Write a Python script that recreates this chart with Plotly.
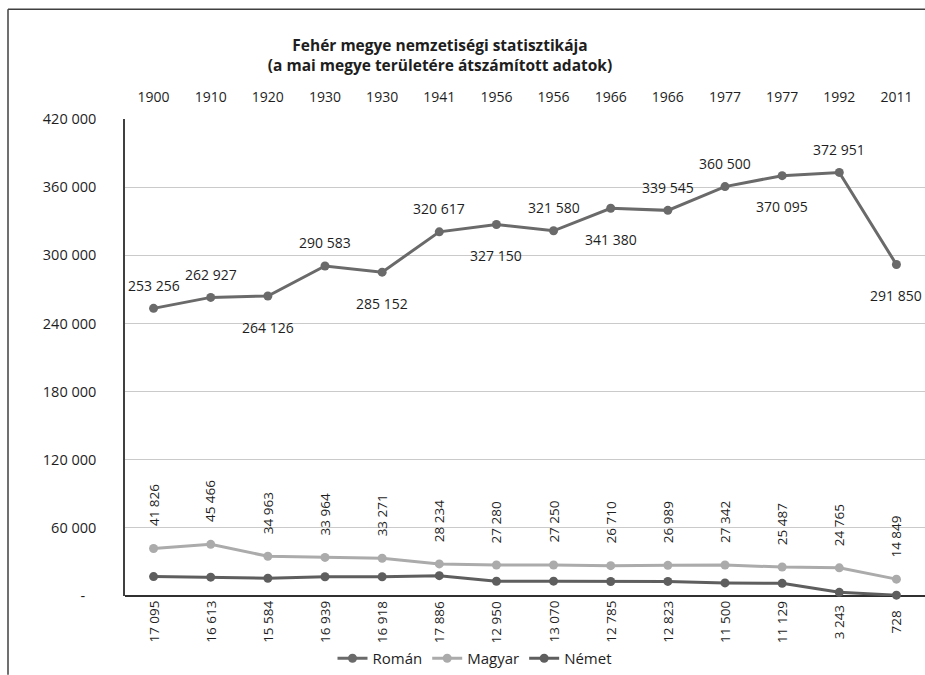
import plotly.graph_objects as go

years = ["1900", "1910", "1920", "1930", "1930", "1941", "1956", "1956",
         "1966", "1966", "1977", "1977", "1992", "2011"]
roman = [253256, 262927, 264126, 290583, 285152, 320617, 327150, 321580,
         341380, 339545, 360500, 370095, 372951, 291850]
magyar = [41826, 45466, 34963, 33964, 33271, 28234, 27280, 27250,
          26710, 26989, 27342, 25487, 24765, 14849]
nemet = [17095, 16613, 15584, 16939, 16918, 17886, 12950, 13070,
         12785, 12823, 11500, 11129, 3243, 728]
roman_label_side = ["above", "above", "below", "above", "below", "above", "below",
                    "above", "below", "above", "above", "below", "above", "below"]
y_ticks = [0, 60000, 120000, 180000, 240000, 300000, 360000, 420000]

FONT = "Open Sans"
C_ROMAN = "#6a6a6a"
C_MAGYAR = "#ababab"
C_NEMET = "#5e5e5e"
TXT = "#1e1e1e"

xs = list(range(len(years)))


def fmt(v):
    return f"{v:,}".replace(",", " ")


fig = go.Figure()
for name, vals, col in [("Román", roman, C_ROMAN), ("Magyar", magyar, C_MAGYAR),
                        ("Német", nemet, C_NEMET)]:
    fig.add_trace(go.Scatter(
        x=xs, y=vals, name=name, mode="lines+markers",
        line=dict(color=col, width=3), marker=dict(color=col, size=9),
        cliponaxis=False,
    ))

ann = []
for i, (v, side) in enumerate(zip(roman, roman_label_side)):
    ann.append(dict(x=i, y=v, xref="x", yref="y", text=fmt(v), showarrow=False,
                    yanchor="middle", yshift=23 if side == "above" else -31,
                    font=dict(family=FONT, size=14, color=TXT)))
for i, v in enumerate(magyar):
    ann.append(dict(x=i, y=v, xref="x", yref="y", text=fmt(v), showarrow=False,
                    textangle=-90, yanchor="middle", yshift=43,
                    font=dict(family=FONT, size=13.5, color=TXT)))
for i, v in enumerate(nemet):
    ann.append(dict(x=i, y=0, xref="x", yref="y", text=fmt(v), showarrow=False,
                    textangle=-90, yanchor="middle", yshift=-26,
                    font=dict(family=FONT, size=13.5, color=TXT)))

ytext = ["-\u00a0\u00a0\u00a0"] + [fmt(v) for v in y_ticks[1:]]

fig.update_layout(
    width=925, height=675,
    margin=dict(l=125, r=0, t=119, b=78),
    paper_bgcolor="white", plot_bgcolor="white",
    font=dict(family=FONT, size=14, color=TXT),
    title=dict(
        text="<b>Fehér megye nemzetiségi statisztikája<br>(a mai megye területére átszámított adatok)</b>",
        x=440 / 925, xref="container", xanchor="center",
        y=1 - 51 / 675, yref="container", yanchor="middle",
        font=dict(family=FONT, size=15.5, color=TXT),
    ),
    xaxis=dict(
        range=[-0.5, len(years) - 0.5], tickvals=xs, ticktext=years,
        side="top", showgrid=False, showline=False, zeroline=False,
        ticks="", ticklabelstandoff=13,
        tickfont=dict(family=FONT, size=14, color=TXT),
    ),
    yaxis=dict(
        range=[0, 420000], tickvals=y_ticks, ticktext=ytext,
        showgrid=True, gridcolor="#cacaca", gridwidth=1,
        showline=True, linecolor="#404040", linewidth=1.5,
        zeroline=True, zerolinecolor="#303030", zerolinewidth=1.5,
        ticks="", ticklabelstandoff=24,
        tickfont=dict(family=FONT, size=14.5, color=TXT),
    ),
    legend=dict(orientation="h", x=0.4375, xanchor="center", y=-0.132,
                yanchor="middle", font=dict(family=FONT, size=15, color=TXT),
                tracegroupgap=0),
    annotations=ann,
    shapes=[
        dict(type="line", xref="paper", yref="paper", x0=(8 - 125) / 800, x1=1.0,
             y0=(597 - 9) / 478, y1=(597 - 9) / 478, line=dict(color="#404040", width=1.5)),
        dict(type="line", xref="paper", yref="paper", x0=(8 - 125) / 800, x1=(8 - 125) / 800,
             y0=(597 - 9) / 478, y1=(597 - 676) / 478, line=dict(color="#404040", width=1.5)),
    ],
    showlegend=True,
)

fig.write_html("out.html", config={"displayModeBar": False},
               post_script="document.body.style.margin='0';document.body.style.overflow='hidden';")
